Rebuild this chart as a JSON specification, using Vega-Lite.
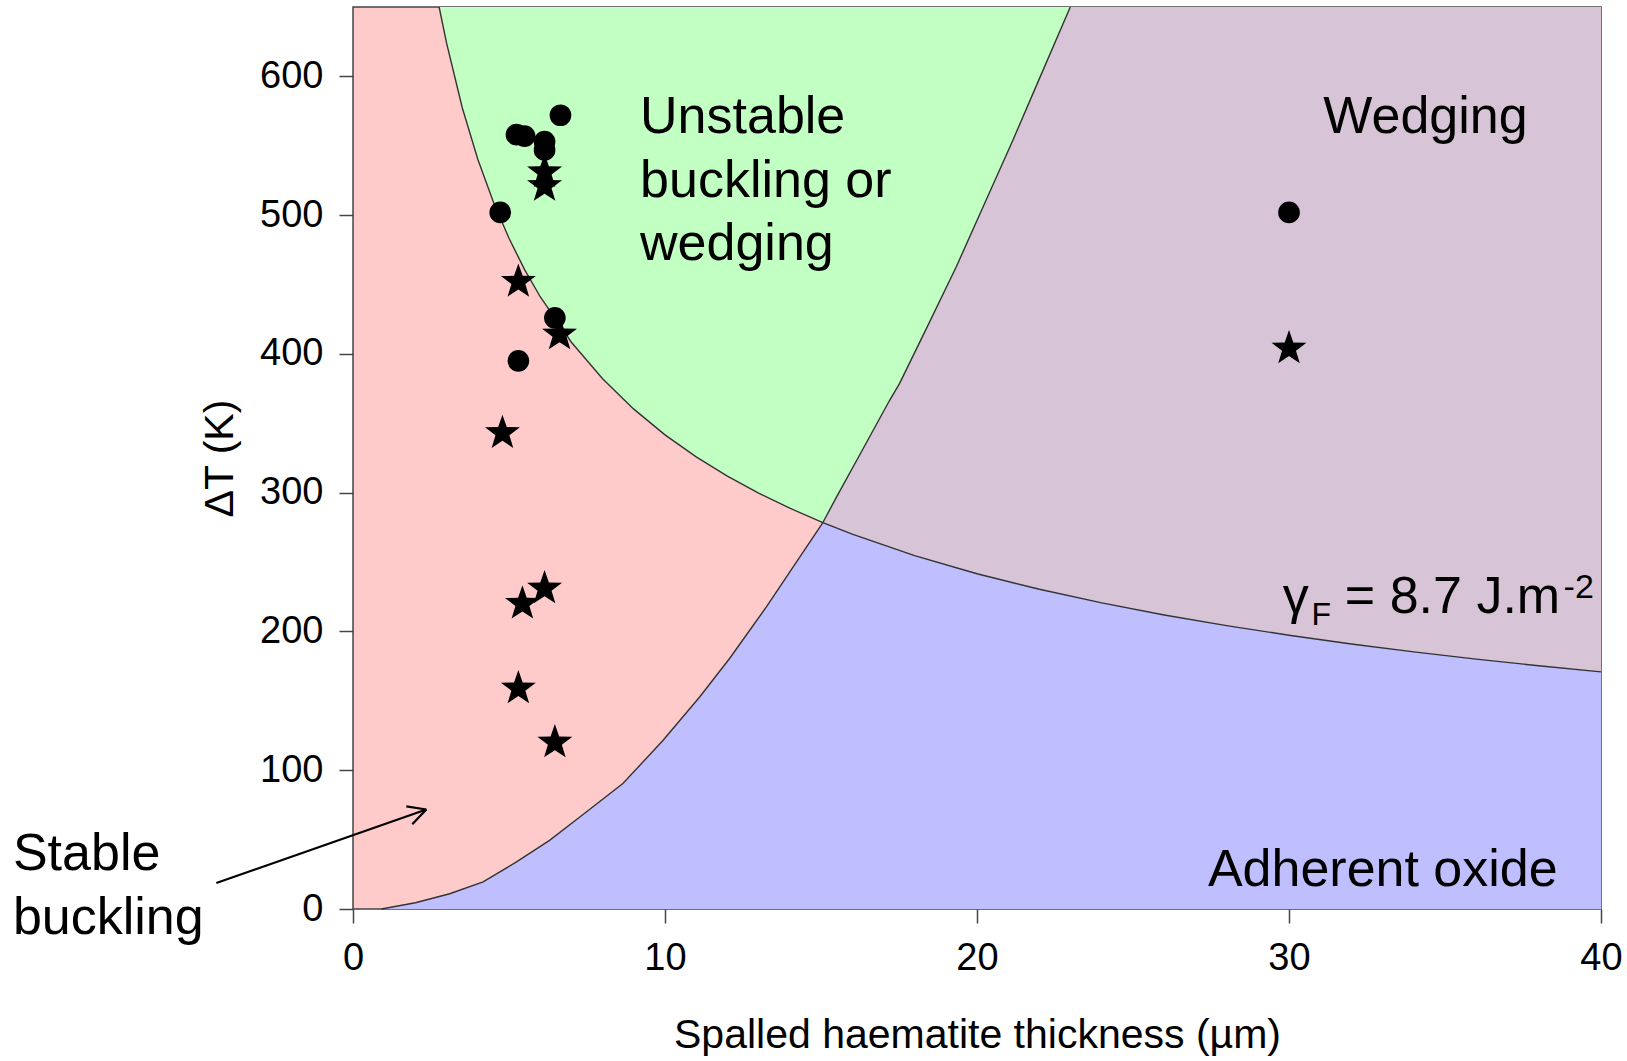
{
  "$schema": "https://vega.github.io/schema/vega-lite/v6.json",
  "autosize": "none",
  "width": 1248,
  "height": 902,
  "padding": {"left": 353, "top": 7, "right": 26, "bottom": 152},
  "background": "white",
  "config": {
    "view": {"fill": "#FFCACA", "stroke": "#444444", "strokeWidth": 1.5},
    "font": "Liberation Sans",
    "axis": {
      "labelFont": "Liberation Sans",
      "labelFontSize": 38,
      "labelColor": "#000000",
      "labelFlush": false,
      "tickColor": "#444444",
      "tickWidth": 1.5,
      "tickSize": 14,
      "domain": false,
      "grid": false,
      "titleFont": "Liberation Sans",
      "titleFontSize": 41,
      "titleFontWeight": "normal",
      "titleColor": "#000000"
    }
  },
  "datasets": {
    "unstable": [
      {"x": 2.76, "lo": 650, "hi": 650},
      {"x": 3, "lo": 623.9, "hi": 650},
      {"x": 3.5, "lo": 577.6, "hi": 650},
      {"x": 4, "lo": 540.3, "hi": 650},
      {"x": 4.5, "lo": 509.4, "hi": 650},
      {"x": 5, "lo": 483.3, "hi": 650},
      {"x": 5.5, "lo": 460.8, "hi": 650},
      {"x": 6, "lo": 441.2, "hi": 650},
      {"x": 7, "lo": 408.4, "hi": 650},
      {"x": 8, "lo": 382.1, "hi": 650},
      {"x": 9, "lo": 360.2, "hi": 650},
      {"x": 10, "lo": 341.7, "hi": 650},
      {"x": 11, "lo": 325.8, "hi": 650},
      {"x": 12, "lo": 311.9, "hi": 650},
      {"x": 13, "lo": 299.7, "hi": 650},
      {"x": 14, "lo": 288.8, "hi": 650},
      {"x": 15.06, "lo": 278.5, "hi": 650},
      {"x": 15.5, "lo": 297, "hi": 650},
      {"x": 16.3, "lo": 329.7, "hi": 650},
      {"x": 17.2, "lo": 366.6, "hi": 650},
      {"x": 17.52, "lo": 378.8, "hi": 650},
      {"x": 18.4, "lo": 419.3, "hi": 650},
      {"x": 19.34, "lo": 463, "hi": 650},
      {"x": 20.2, "lo": 506.3, "hi": 650},
      {"x": 21.15, "lo": 554, "hi": 650},
      {"x": 22.0, "lo": 598.4, "hi": 650},
      {"x": 22.99, "lo": 650, "hi": 650}
    ],
    "wedging": [
      {"x": 15.06, "lo": 278.5, "hi": 278.5},
      {"x": 15.5, "lo": 274.5, "hi": 297},
      {"x": 16.3, "lo": 267.7, "hi": 329.7},
      {"x": 17.2, "lo": 260.6, "hi": 366.6},
      {"x": 17.52, "lo": 258.2, "hi": 378.8},
      {"x": 18.4, "lo": 251.9, "hi": 419.3},
      {"x": 19.34, "lo": 245.7, "hi": 463},
      {"x": 20.2, "lo": 240.4, "hi": 506.3},
      {"x": 21.15, "lo": 235.0, "hi": 554},
      {"x": 22.0, "lo": 230.4, "hi": 598.4},
      {"x": 22.99, "lo": 225.4, "hi": 650},
      {"x": 24, "lo": 220.6, "hi": 650},
      {"x": 26, "lo": 211.9, "hi": 650},
      {"x": 28, "lo": 204.2, "hi": 650},
      {"x": 30, "lo": 197.3, "hi": 650},
      {"x": 32, "lo": 191.0, "hi": 650},
      {"x": 34, "lo": 185.3, "hi": 650},
      {"x": 36, "lo": 180.1, "hi": 650},
      {"x": 38, "lo": 175.3, "hi": 650},
      {"x": 40, "lo": 170.9, "hi": 650}
    ],
    "adherent": [
      {"x": 0.91, "lo": 0, "hi": 0},
      {"x": 2.0, "lo": 0, "hi": 4.5},
      {"x": 3.1, "lo": 0, "hi": 11},
      {"x": 4.17, "lo": 0, "hi": 19.5},
      {"x": 5.24, "lo": 0, "hi": 33.9},
      {"x": 6.3, "lo": 0, "hi": 49.5},
      {"x": 7.27, "lo": 0, "hi": 66.3},
      {"x": 8.65, "lo": 0, "hi": 90.4},
      {"x": 9.94, "lo": 0, "hi": 121.6},
      {"x": 11.11, "lo": 0, "hi": 152.8},
      {"x": 12.07, "lo": 0, "hi": 180.5},
      {"x": 13.25, "lo": 0, "hi": 217.7},
      {"x": 15.06, "lo": 0, "hi": 278.5},
      {"x": 16, "lo": 0, "hi": 270.2},
      {"x": 18, "lo": 0, "hi": 254.7},
      {"x": 20, "lo": 0, "hi": 241.6},
      {"x": 22, "lo": 0, "hi": 230.4},
      {"x": 24, "lo": 0, "hi": 220.6},
      {"x": 26, "lo": 0, "hi": 211.9},
      {"x": 28, "lo": 0, "hi": 204.2},
      {"x": 30, "lo": 0, "hi": 197.3},
      {"x": 32, "lo": 0, "hi": 191.0},
      {"x": 34, "lo": 0, "hi": 185.3},
      {"x": 36, "lo": 0, "hi": 180.1},
      {"x": 38, "lo": 0, "hi": 175.3},
      {"x": 40, "lo": 0, "hi": 170.9}
    ],
    "curves": [
      {"curve": "B", "x": 2.76, "y": 650},
      {"curve": "B", "x": 3, "y": 623.9},
      {"curve": "B", "x": 3.5, "y": 577.6},
      {"curve": "B", "x": 4, "y": 540.3},
      {"curve": "B", "x": 4.5, "y": 509.4},
      {"curve": "B", "x": 5, "y": 483.3},
      {"curve": "B", "x": 5.5, "y": 460.8},
      {"curve": "B", "x": 6, "y": 441.2},
      {"curve": "B", "x": 7, "y": 408.4},
      {"curve": "B", "x": 8, "y": 382.1},
      {"curve": "B", "x": 9, "y": 360.2},
      {"curve": "B", "x": 10, "y": 341.7},
      {"curve": "B", "x": 11, "y": 325.8},
      {"curve": "B", "x": 12, "y": 311.9},
      {"curve": "B", "x": 13, "y": 299.7},
      {"curve": "B", "x": 14, "y": 288.8},
      {"curve": "B", "x": 15.06, "y": 278.5},
      {"curve": "B", "x": 16, "y": 270.2},
      {"curve": "B", "x": 18, "y": 254.7},
      {"curve": "B", "x": 20, "y": 241.6},
      {"curve": "B", "x": 22, "y": 230.4},
      {"curve": "B", "x": 24, "y": 220.6},
      {"curve": "B", "x": 26, "y": 211.9},
      {"curve": "B", "x": 28, "y": 204.2},
      {"curve": "B", "x": 30, "y": 197.3},
      {"curve": "B", "x": 32, "y": 191.0},
      {"curve": "B", "x": 34, "y": 185.3},
      {"curve": "B", "x": 36, "y": 180.1},
      {"curve": "B", "x": 38, "y": 175.3},
      {"curve": "B", "x": 40, "y": 170.9},
      {"curve": "R", "x": 0.91, "y": 0},
      {"curve": "R", "x": 2.0, "y": 4.5},
      {"curve": "R", "x": 3.1, "y": 11},
      {"curve": "R", "x": 4.17, "y": 19.5},
      {"curve": "R", "x": 5.24, "y": 33.9},
      {"curve": "R", "x": 6.3, "y": 49.5},
      {"curve": "R", "x": 7.27, "y": 66.3},
      {"curve": "R", "x": 8.65, "y": 90.4},
      {"curve": "R", "x": 9.94, "y": 121.6},
      {"curve": "R", "x": 11.11, "y": 152.8},
      {"curve": "R", "x": 12.07, "y": 180.5},
      {"curve": "R", "x": 13.25, "y": 217.7},
      {"curve": "R", "x": 15.06, "y": 278.5},
      {"curve": "W", "x": 15.06, "y": 278.5},
      {"curve": "W", "x": 15.5, "y": 297},
      {"curve": "W", "x": 16.3, "y": 329.7},
      {"curve": "W", "x": 17.2, "y": 366.6},
      {"curve": "W", "x": 17.52, "y": 378.8},
      {"curve": "W", "x": 18.4, "y": 419.3},
      {"curve": "W", "x": 19.34, "y": 463},
      {"curve": "W", "x": 20.2, "y": 506.3},
      {"curve": "W", "x": 21.15, "y": 554},
      {"curve": "W", "x": 22.0, "y": 598.4},
      {"curve": "W", "x": 22.99, "y": 650}
    ],
    "arrow": [
      {"part": "shaft", "x": -4.38, "y": 18.7},
      {"part": "shaft", "x": 2.35, "y": 71.7},
      {"part": "head1", "x": 1.71, "y": 74.0},
      {"part": "head1", "x": 2.35, "y": 71.7},
      {"part": "head2", "x": 1.9, "y": 61.1},
      {"part": "head2", "x": 2.35, "y": 71.7}
    ],
    "points": [
      {"shape": "circle", "x": 6.65, "y": 572},
      {"shape": "circle", "x": 5.24, "y": 558},
      {"shape": "circle", "x": 5.5, "y": 557},
      {"shape": "circle", "x": 6.14, "y": 553},
      {"shape": "circle", "x": 6.14, "y": 547},
      {"shape": "circle", "x": 4.72, "y": 502},
      {"shape": "circle", "x": 6.47, "y": 426},
      {"shape": "circle", "x": 5.3, "y": 395},
      {"shape": "circle", "x": 30, "y": 502},
      {"shape": "star", "x": 6.14, "y": 531},
      {"shape": "star", "x": 6.14, "y": 521},
      {"shape": "star", "x": 5.3, "y": 452},
      {"shape": "star", "x": 6.62, "y": 414},
      {"shape": "star", "x": 4.79, "y": 343},
      {"shape": "star", "x": 6.14, "y": 231},
      {"shape": "star", "x": 5.43, "y": 220},
      {"shape": "star", "x": 5.3, "y": 159},
      {"shape": "star", "x": 6.47, "y": 120},
      {"shape": "star", "x": 30, "y": 404}
    ]
  },
  "layer": [
    {
      "data": {"name": "unstable"},
      "mark": {"type": "area", "color": "#C2FFC2", "opacity": 1},
      "encoding": {
        "x": {"field": "x", "type": "quantitative", "scale": {"domain": [0, 40], "nice": false, "zero": false},
              "axis": {"values": [0, 10, 20, 30, 40], "labelPadding": 16, "titlePadding": 38},
              "title": "Spalled haematite thickness (µm)"},
        "y": {"field": "lo", "type": "quantitative", "scale": {"domain": [0, 650], "nice": false},
              "axis": {"values": [0, 100, 200, 300, 400, 500, 600], "labelPadding": 16, "titlePadding": 18},
              "title": "ΔT (K)"},
        "y2": {"field": "hi"}
      }
    },
    {
      "data": {"name": "wedging"},
      "mark": {"type": "area", "color": "#D7C5D7", "opacity": 1},
      "encoding": {
        "x": {"field": "x", "type": "quantitative", "title": "Spalled haematite thickness (µm)"},
        "y": {"field": "lo", "type": "quantitative", "title": "ΔT (K)"},
        "y2": {"field": "hi"}
      }
    },
    {
      "data": {"name": "adherent"},
      "mark": {"type": "area", "color": "#BFBFFF", "opacity": 1},
      "encoding": {
        "x": {"field": "x", "type": "quantitative", "title": "Spalled haematite thickness (µm)"},
        "y": {"field": "lo", "type": "quantitative", "title": "ΔT (K)"},
        "y2": {"field": "hi"}
      }
    },
    {
      "data": {"name": "curves"},
      "mark": {"type": "line", "color": "#333333", "strokeWidth": 1.4},
      "encoding": {
        "x": {"field": "x", "type": "quantitative", "title": "Spalled haematite thickness (µm)"},
        "y": {"field": "y", "type": "quantitative", "title": "ΔT (K)"},
        "detail": {"field": "curve"}
      }
    },
    {
      "data": {"name": "arrow"},
      "mark": {"type": "line", "color": "#000000", "strokeWidth": 2.2},
      "encoding": {
        "x": {"field": "x", "type": "quantitative", "title": "Spalled haematite thickness (µm)"},
        "y": {"field": "y", "type": "quantitative", "title": "ΔT (K)"},
        "detail": {"field": "part"}
      }
    },
    {
      "data": {"name": "points"},
      "mark": {"type": "point", "filled": true, "opacity": 1, "color": "#000000", "strokeWidth": 0},
      "encoding": {
        "x": {"field": "x", "type": "quantitative", "title": "Spalled haematite thickness (µm)"},
        "y": {"field": "y", "type": "quantitative", "title": "ΔT (K)"},
        "shape": {"field": "shape", "type": "nominal", "legend": null,
                  "scale": {"domain": ["circle", "star"],
                            "range": ["circle", "M0,-1L0.235,-0.324L0.951,-0.309L0.38,0.124L0.588,0.809L0,0.42L-0.588,0.809L-0.38,0.124L-0.951,-0.309L-0.235,-0.324Z"]}},
        "size": {"field": "shape", "type": "nominal", "legend": null,
                 "scale": {"domain": ["circle", "star"], "range": [470, 1350]}}
      }
    },
    {
      "data": {"values": [{}]},
      "mark": {"type": "text", "text": ["Unstable", "buckling or", "wedging"], "align": "left", "baseline": "alphabetic", "fontSize": 52, "lineHeight": 63.5, "font": "Liberation Sans", "color": "#000000"},
      "encoding": {"x": {"datum": 9.2, "type": "quantitative"}, "y": {"datum": 559, "type": "quantitative"}}
    },
    {
      "data": {"values": [{}]},
      "mark": {"type": "text", "text": "Wedging", "align": "left", "baseline": "alphabetic", "fontSize": 52, "font": "Liberation Sans", "color": "#000000"},
      "encoding": {"x": {"datum": 31.1, "type": "quantitative"}, "y": {"datum": 559, "type": "quantitative"}}
    },
    {
      "data": {"values": [{}]},
      "mark": {"type": "text", "text": "Adherent oxide", "align": "left", "baseline": "alphabetic", "fontSize": 52, "font": "Liberation Sans", "color": "#000000"},
      "encoding": {"x": {"datum": 27.4, "type": "quantitative"}, "y": {"datum": 16.4, "type": "quantitative"}}
    },
    {
      "data": {"values": [{}]},
      "mark": {"type": "text", "text": ["Stable", "buckling"], "align": "left", "baseline": "alphabetic", "fontSize": 52, "lineHeight": 64, "font": "Liberation Sans", "color": "#000000"},
      "encoding": {"x": {"datum": -10.9, "type": "quantitative"}, "y": {"datum": 27.9, "type": "quantitative"}}
    },
    {
      "data": {"values": [{}]},
      "mark": {"type": "text", "text": "γ", "align": "left", "baseline": "alphabetic", "fontSize": 52, "font": "Liberation Sans", "color": "#000000"},
      "encoding": {"x": {"datum": 29.8, "type": "quantitative"}, "y": {"datum": 213, "type": "quantitative"}}
    },
    {
      "data": {"values": [{}]},
      "mark": {"type": "text", "text": "F", "align": "left", "baseline": "alphabetic", "fontSize": 32, "font": "Liberation Sans", "color": "#000000"},
      "encoding": {"x": {"datum": 30.72, "type": "quantitative"}, "y": {"datum": 204.5, "type": "quantitative"}}
    },
    {
      "data": {"values": [{}]},
      "mark": {"type": "text", "text": "= 8.7 J.m", "align": "left", "baseline": "alphabetic", "fontSize": 52, "font": "Liberation Sans", "color": "#000000"},
      "encoding": {"x": {"datum": 31.79, "type": "quantitative"}, "y": {"datum": 213, "type": "quantitative"}}
    },
    {
      "data": {"values": [{}]},
      "mark": {"type": "text", "text": "-2", "align": "left", "baseline": "alphabetic", "fontSize": 34, "font": "Liberation Sans", "color": "#000000"},
      "encoding": {"x": {"datum": 38.8, "type": "quantitative"}, "y": {"datum": 224, "type": "quantitative"}}
    }
  ]
}
